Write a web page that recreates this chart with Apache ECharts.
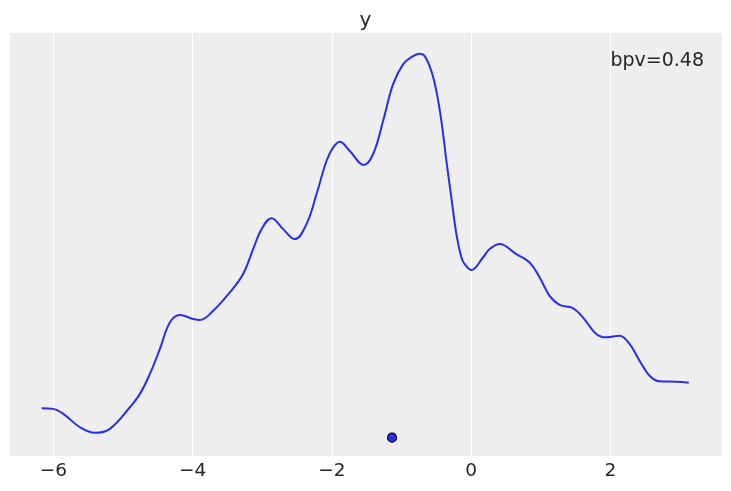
<!DOCTYPE html>
<html>
<head>
<meta charset="utf-8">
<script src="https://cdn.jsdelivr.net/npm/echarts@6/dist/echarts.min.js"></script>
<style>
html,body{margin:0;padding:0;background:#fff;}
#chart{width:731px;height:491px;}
</style>
</head>
<body>
<div id="chart"></div>
<script>
// KDE curve of the test statistic (x, density)
const kdeX = [-6.167,-6.000,-5.857,-5.617,-5.402,-5.187,-4.900,-4.756,-4.613,-4.469,-4.326,-4.182,-3.991,-3.895,-3.704,-3.465,-3.274,-3.130,-3.009,-2.866,-2.699,-2.532,-2.364,-2.220,-2.077,-1.982,-1.886,-1.742,-1.541,-1.408,-1.264,-1.121,-0.977,-0.857,-0.738,-0.666,-0.570,-0.498,-0.426,-0.354,-0.283,-0.211,-0.139,-0.092,0.004,0.171,0.267,0.410,0.650,0.841,0.985,1.128,1.272,1.462,1.606,1.798,1.942,2.133,2.276,2.420,2.563,2.707,2.946,3.127];
const kdeY = [0.0147,0.0144,0.0119,0.0052,0.0024,0.0044,0.0152,0.0219,0.0319,0.0444,0.0577,0.0614,0.0594,0.0589,0.0635,0.0727,0.0819,0.0944,0.1044,0.1099,0.1044,0.0994,0.1069,0.1219,0.1385,0.1452,0.1482,0.1435,0.1365,0.1419,0.1585,0.1769,0.1869,0.1905,0.1922,0.1910,0.1835,0.1735,0.1585,0.1385,0.1202,0.1019,0.0902,0.0869,0.0839,0.0902,0.0944,0.0970,0.0919,0.0877,0.0802,0.0710,0.0665,0.0649,0.0602,0.0519,0.0502,0.0510,0.0469,0.0385,0.0310,0.0282,0.0280,0.0275];
// observed statistic
const obsX = [-1.135];
const obsY = [0];
const tickValues = [-6, -4, -2, 0, 2];
const titleText = 'y';
const bpvText = 'bpv=0.48';

const FONT = 'DejaVu Sans';
const TXT = '#262626';
const chart = echarts.init(document.getElementById('chart'), null, {renderer: 'canvas'});
chart.setOption({
  animation: false,
  backgroundColor: '#ffffff',
  title: {
    text: titleText,
    left: 'center',
    top: 6,
    textStyle: {fontFamily: FONT, fontSize: 20, fontWeight: 'normal', color: TXT}
  },
  grid: {
    left: 10, right: 9, top: 33, bottom: 35,
    show: true, backgroundColor: '#eeeeee', borderWidth: 0,
    containLabel: false
  },
  xAxis: {
    type: 'value',
    min: -6.622, max: 3.604,
    axisLine: {show: false},
    axisTick: {show: false, customValues: tickValues},
    splitLine: {show: true, lineStyle: {color: '#ffffff', width: 1}},
    axisLabel: {
      customValues: tickValues,
      fontFamily: FONT, fontSize: 18.5, color: TXT, margin: 6,
      formatter: v => String(v).replace('-', '\u2212')
    }
  },
  yAxis: {
    type: 'value',
    min: -0.0092, max: 0.2026,
    show: true,
    axisLine: {show: false},
    axisTick: {show: false},
    axisLabel: {show: false},
    splitLine: {show: false}
  },
  graphic: [{
    type: 'text',
    right: 27,
    top: 52,
    style: {text: bpvText, fontFamily: FONT, fontSize: 19, fill: TXT}
  }],
  series: [{
    type: 'line',
    data: kdeX.map((x, i) => [x, kdeY[i]]),
    smooth: 0.4,
    symbol: 'none',
    lineStyle: {color: '#2a2eec', width: 2},
    silent: true
  }, {
    type: 'scatter',
    data: obsX.map((x, i) => [x, obsY[i]]),
    symbol: 'circle',
    symbolSize: 9,
    itemStyle: {color: '#2a2eec', opacity: 1, borderColor: '#000000', borderWidth: 1.2},
    silent: true
  }]
});
</script>
</body>
</html>
